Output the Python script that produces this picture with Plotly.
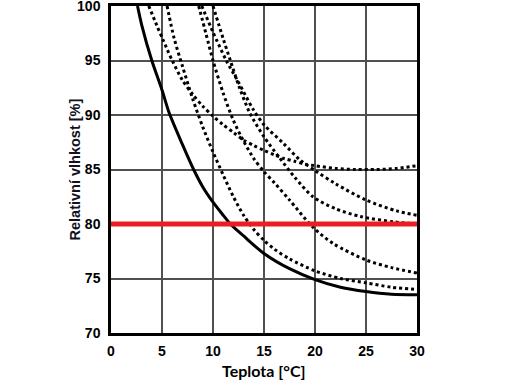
import plotly.graph_objects as go

# Solid curve (lowest limit)
solid_x = [2.6, 3, 4, 5, 5.7, 7, 8.1, 9, 10, 11, 11.7, 13, 15, 17.5, 20, 22.5, 25, 27.5, 30]
solid_y = [100, 98.3, 95, 92.3, 90.2, 87.3, 85, 83.4, 82, 80.8, 80, 78.9, 77.3, 75.9, 74.9, 74.2, 73.8, 73.55, 73.5]

# Dotted curves
a_x = [3.7, 4.5, 5.1, 6, 7, 8, 9, 10, 11, 12, 13, 14, 15, 16, 17, 18, 19, 20, 22, 24, 26, 28, 30]
a_y = [100, 98.2, 96.9, 95.0, 93.2, 91.9, 90.8, 89.9, 89.1, 88.4, 87.7, 87.2, 86.75, 86.35, 86.0, 85.75, 85.5, 85.35, 85.1, 85.0, 85.0, 85.1, 85.35]

b_x = [8.9, 10, 11.3, 12.5, 13.95, 15, 16.9, 18.5, 20, 22, 25, 28, 30]
b_y = [100, 97.6, 95, 93, 90.5, 89.1, 87.4, 85.9, 84.9, 83.7, 82.2, 81.2, 80.8]

x_x = [10, 11, 11.7, 12.6, 13.6, 15, 16.5, 18, 19.8, 22, 24.4, 27.7, 30]
x_y = [100, 97, 95, 92.5, 90.2, 88, 86.1, 84.3, 82.5, 81.4, 80.7, 80.2, 80.0]

c_x = [8.6, 9.3, 10, 11, 12, 13, 14, 15, 16, 17.5, 19.8, 21.8, 25, 27.5, 30]
c_y = [100, 97.5, 95, 92, 89.5, 87.6, 86, 84.8, 83.8, 82.2, 79.7, 78.2, 76.7, 76.0, 75.5]

d_x = [5.5, 6.2, 7, 8, 9, 10, 11, 12, 13, 14, 15, 16, 17.5, 20, 22.5, 25, 27.5, 30]
d_y = [100, 97, 94.5, 91.5, 88.9, 86.6, 84.5, 82.5, 80.8, 79.5, 78.5, 77.7, 76.8, 75.7, 75.0, 74.6, 74.2, 74.0]

limit_x = [0, 30]
limit_y = [80, 80]

x_ticks = [0, 5, 10, 15, 20, 25, 30]
y_ticks = [70, 75, 80, 85, 90, 95, 100]

fig = go.Figure()
for xs, ys in [(a_x, a_y), (b_x, b_y), (x_x, x_y), (c_x, c_y), (d_x, d_y)]:
    fig.add_trace(go.Scatter(x=xs, y=ys, mode="lines",
                             line=dict(color="black", width=3, dash="dot", shape="spline", smoothing=0.8),
                             showlegend=False, hoverinfo="skip"))
fig.add_trace(go.Scatter(x=solid_x, y=solid_y, mode="lines",
                         line=dict(color="black", width=3, shape="spline", smoothing=0.8),
                         showlegend=False, hoverinfo="skip"))
fig.add_trace(go.Scatter(x=limit_x, y=limit_y, mode="lines",
                         line=dict(color="#ED1C24", width=5),
                         showlegend=False, hoverinfo="skip"))

tickfont = dict(family="Liberation Sans, Arial, sans-serif", size=14, color="black")
fig.update_layout(
    width=509, height=382,
    margin=dict(l=111, r=92, t=6, b=49),
    paper_bgcolor="white", plot_bgcolor="white",
    xaxis=dict(range=[0, 30], tickvals=x_ticks, ticktext=["<b>%d</b>" % v for v in x_ticks],
               showgrid=True, gridcolor="#505050", gridwidth=2, zeroline=False,
               showline=True, linecolor="black", linewidth=2.5, mirror=True,
               ticks="", tickfont=tickfont, ticklabelstandoff=3, automargin=False,
               ticklabeloverflow="allow"),
    yaxis=dict(range=[70, 100], tickvals=y_ticks, ticktext=["<b>%d</b>" % v for v in y_ticks],
               showgrid=True, gridcolor="#505050", gridwidth=2, zeroline=False,
               showline=True, linecolor="black", linewidth=2.5, mirror=True,
               ticks="", tickfont=tickfont, ticklabelstandoff=5, automargin=False,
               ticklabeloverflow="allow"),
    annotations=[
        dict(text="<b>Teplota [°C]</b>", xref="paper", yref="paper", x=0.5, y=0,
             yshift=-37, xanchor="center", yanchor="middle", showarrow=False,
             font=dict(family="Lato, sans-serif", size=16, color="black")),
        dict(text="<b>Relativní vlhkost [%]</b>", xref="paper", yref="paper", x=0, y=0.5,
             xshift=-37, xanchor="center", yanchor="middle", textangle=-90, showarrow=False,
             font=dict(family="Liberation Sans, Arial, sans-serif", size=14.5, color="#111122")),
    ],
)

fig.write_html("out.html", config={"displayModeBar": False},
               post_script="document.body.style.margin='0';document.body.style.padding='0';")
